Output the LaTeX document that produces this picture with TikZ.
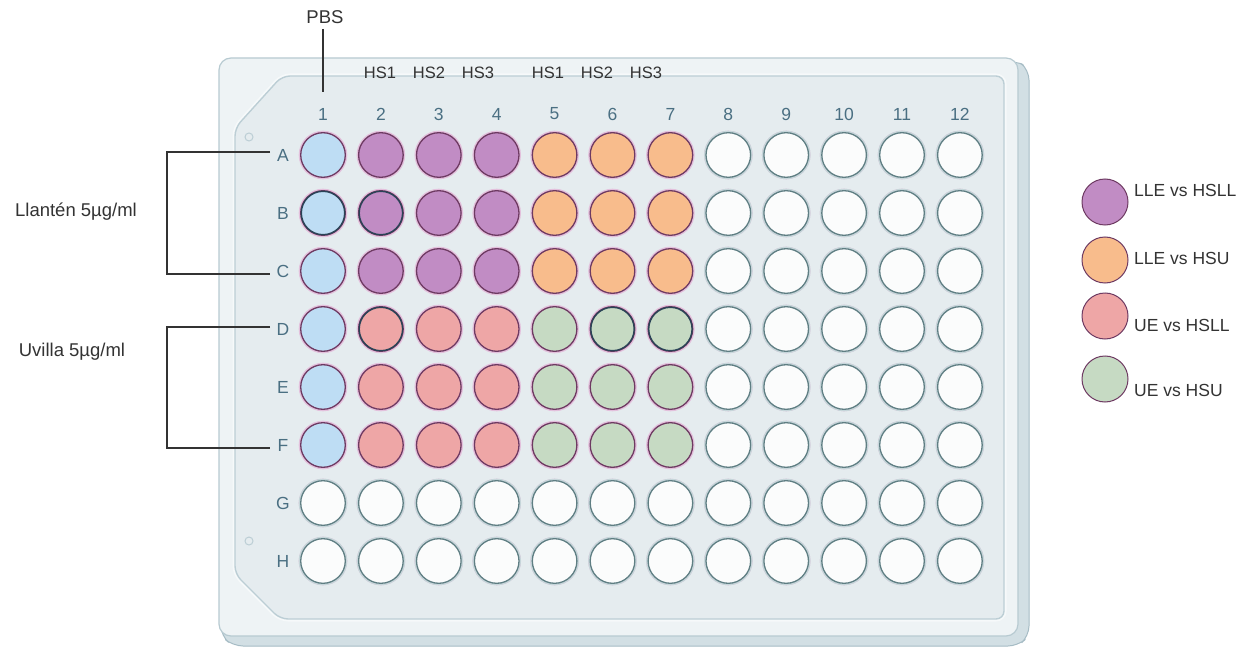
\documentclass[tikz,border=0pt]{standalone}
\usepackage{fontspec}
\setmainfont{Liberation Sans}
\definecolor{faceC}{HTML}{EEF3F5}
\definecolor{faceD}{HTML}{B7CAD1}
\definecolor{sideC}{HTML}{D2DFE4}
\definecolor{sideD}{HTML}{A6BCC5}
\definecolor{panelC}{HTML}{E5ECEF}
\definecolor{panelD}{HTML}{BCCED5}
\definecolor{panelH}{HTML}{F6F9FA}
\definecolor{wBlue}{HTML}{BEDDF4}
\definecolor{wPurple}{HTML}{C18CC4}
\definecolor{wOrange}{HTML}{F8BC8C}
\definecolor{wPink}{HTML}{EEA6A6}
\definecolor{wGreen}{HTML}{C6DAC3}
\definecolor{wWhite}{HTML}{FBFCFC}
\definecolor{rimMag}{HTML}{6E3A62}
\definecolor{rimNavy}{HTML}{2A4356}
\definecolor{rimGray}{HTML}{5F7E83}
\definecolor{haloMag}{HTML}{E3C0DC}
\definecolor{haloGray}{HTML}{C6D6DA}
\definecolor{labC}{HTML}{4A6F82}
\definecolor{txtC}{HTML}{333333}
\tikzset{
  well/.style={circle, minimum size=44.6pt, inner sep=0pt, line width=1.3pt,
    draw=rimMag, preaction={draw=haloMag, line width=4pt}},
  wwell/.style={well, fill=wWhite, draw=rimGray, preaction={draw=haloGray, line width=4pt}},
  collab/.style={text=labC, font=\fontsize{17.5}{20}\selectfont, inner sep=1pt},
  hslab/.style={text=txtC, font=\fontsize{16.5}{19}\selectfont, inner sep=1pt},
  sidelab/.style={text=txtC, font=\fontsize{18.5}{22}\selectfont, inner sep=1pt},
  leglab/.style={text=txtC, font=\fontsize{17.5}{20}\selectfont, anchor=west, inner sep=1pt},
  legdot/.style={circle, minimum size=46pt, inner sep=0pt, line width=1pt, draw=#1},
  bracket/.style={draw=txtC, line width=1.4pt},
}
\begin{document}
\begin{tikzpicture}[x=1pt,y=-1pt]
\useasboundingbox (0,0) rectangle (1247,647);
\fill[white] (0,0) rectangle (1247,647);
% plate side strip
\filldraw[fill=sideC, draw=sideD, line width=1pt, rounded corners=10pt]
  (221,600) -- (221,636) -- (233,646) -- (1018,646) -- (1029,636) -- (1029,70) -- (1016,59) -- cycle;
% plate face
\filldraw[fill=faceC, draw=faceD, line width=1.2pt, rounded corners=12pt]
  (219,58) rectangle (1018,636);
% inner panel
\draw[draw=panelH, line width=5pt, rounded corners=8pt]
  (235,128) -- (282,76) -- (1004,76) -- (1004,619) -- (280,619) -- (235,574) -- cycle;
\filldraw[fill=panelC, draw=panelD, line width=1.4pt, rounded corners=8pt]
  (235,128) -- (282,76) -- (1004,76) -- (1004,619) -- (280,619) -- (235,574) -- cycle;
% holes
\draw[panelD, line width=1pt] (249,137) circle (4);
\draw[panelD, line width=1pt] (249,541) circle (4);
% column labels
\foreach \c in {1,...,12} \node[collab] (col\c) at ({323+(\c-1)*57.9},114) {\c};
% row labels
\foreach \r [count=\j from 0] in {A,B,C,D,E,F,G,H} \node[collab] (row\r) at (283,{155+\j*58}) {\r};
% white wells
\foreach \c in {8,...,12} \foreach \j in {0,...,7}
  \node[wwell] (w\j-\c) at ({323+(\c-1)*57.9},{155+\j*58}) {};
\foreach \c in {1,...,7} \foreach \j in {6,7}
  \node[wwell] (w\j-\c) at ({323+(\c-1)*57.9},{155+\j*58}) {};
% blue PBS wells
\foreach \j in {0,...,5}
  \node[well, fill=wBlue] (w\j-1) at (323,{155+\j*58}) {};
% Llanten
\foreach \c in {2,3,4} \foreach \j in {0,1,2}
  \node[well, fill=wPurple] (w\j-\c) at ({323+(\c-1)*57.9},{155+\j*58}) {};
\foreach \c in {5,6,7} \foreach \j in {0,1,2}
  \node[well, fill=wOrange] (w\j-\c) at ({323+(\c-1)*57.9},{155+\j*58}) {};
% Uvilla
\foreach \c in {2,3,4} \foreach \j in {3,4,5}
  \node[well, fill=wPink] (w\j-\c) at ({323+(\c-1)*57.9},{155+\j*58}) {};
\foreach \c in {5,6,7} \foreach \j in {3,4,5}
  \node[well, fill=wGreen] (w\j-\c) at ({323+(\c-1)*57.9},{155+\j*58}) {};
% darker rims
\foreach \n in {1-1,1-2,3-2,3-6,3-7}
  \draw[rimNavy, line width=1.4pt] (w\n.center) circle (21.7);
% HS labels
\node[hslab] (hsa1) at (380,73) {HS1};
\node[hslab] (hsa2) at (429,73) {HS2};
\node[hslab] (hsa3) at (478,73) {HS3};
\node[hslab] (hsb1) at (548,73) {HS1};
\node[hslab] (hsb2) at (597,73) {HS2};
\node[hslab] (hsb3) at (646,73) {HS3};
% PBS
\node[text=txtC, font=\fontsize{18.5}{22}\selectfont, inner sep=1pt] (pbs) at (325,17) {PBS};
\coordinate (pbsend) at (323,92);
\coordinate (pbstop) at (323,29);
\draw[bracket] (pbstop) -- (pbsend);
% brackets
\coordinate (bA) at (270,152);
\coordinate (bC) at (270,274);
\coordinate (bD) at (270,327);
\coordinate (bF) at (270,448);
\draw[bracket] (bA) -- ++(-103,0) |- (bC);
\draw[bracket] (bD) -- ++(-103,0) |- (bF);
\node[sidelab] (llanten) at (76,212) {Llantén 5µg/ml};
\node[sidelab] (uvilla) at (72,352) {Uvilla 5µg/ml};
% legend
\node[legdot=rimMag, fill=wPurple] (l1) at (1105,202) {};
\node[legdot=rimMag, fill=wOrange] (l2) at (1105,260) {};
\node[legdot=rimMag, fill=wPink] (l3) at (1105,316) {};
\node[legdot=rimMag, fill=wGreen] (l4) at (1105,379) {};
\node[leglab] (t1) at (1133,190) {LLE vs HSLL};
\node[leglab] (t2) at (1133,258) {LLE vs HSU};
\node[leglab] (t3) at (1133,325) {UE vs HSLL};
\node[leglab] (t4) at (1133,390) {UE vs HSU};
\end{tikzpicture}
\end{document}
